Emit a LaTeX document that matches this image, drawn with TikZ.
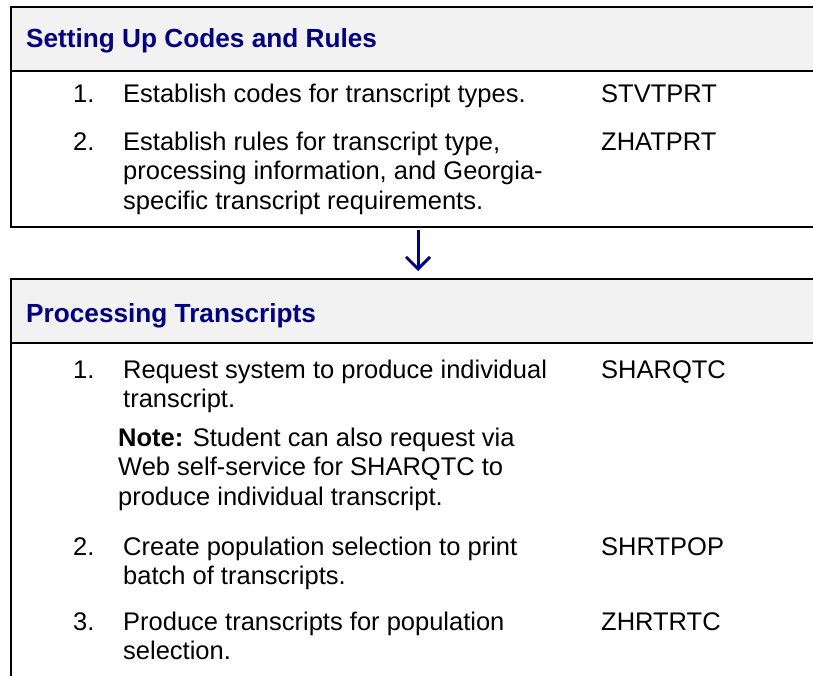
\documentclass[tikz,border=0pt]{standalone}
\usepackage{fontspec}
\setmainfont{Liberation Sans}
\usetikzlibrary{arrows.meta}

\definecolor{headfill}{HTML}{F2F2F2}
\definecolor{headblue}{HTML}{000080}
\newcommand{\steplines}[1]{\parbox[t]{470pt}{\raggedright #1}}

\begin{document}
\begin{tikzpicture}[x=1pt, y=-1pt, font=\fontsize{25.5}{29.5}\selectfont,
    frame/.style={line width=2pt},
    heading/.style={anchor=base west, inner sep=0pt,
      font=\fontsize{26.2}{30}\selectfont\bfseries, text=headblue},
    entry/.style={anchor=base west, inner sep=0pt},
    flowarrow/.style={draw=headblue, line width=3pt,
      -{Straight Barb[length=12pt,width=24pt,line width=3pt]}}]
    \useasboundingbox (0,0) rectangle (813,675);

    % Top panel: setting up codes and rules
    \fill[headfill] (11,7) rectangle (830,71);
    \draw[frame] (830,7) -- (11,7) -- (11,227) -- (830,227);
    \draw[frame] (11,71) -- (830,71);
    \node[heading] (setup-title) at (26,47) {Setting Up Codes and Rules};

    \node[entry] (setup-n1) at (73,102) {1.};
    \node[entry] (setup-t1) at (123,102) {\steplines{Establish codes for transcript types.}};
    \node[entry] (setup-c1) at (601,102) {STVTPRT};

    \node[entry] (setup-n2) at (73,150) {2.};
    \node[entry] (setup-t2) at (123,150) {\steplines{Establish rules for transcript type,\\
      processing information, and Georgia-\\specific transcript requirements.}};
    \node[entry] (setup-c2) at (601,150) {ZHATPRT};

    % Arrow between the panels
    \coordinate (setup-foot) at (418,227);
    \coordinate (proc-head) at (418,279);
    \draw[flowarrow, shorten <=3pt, shorten >=8pt] (setup-foot) -- (proc-head);

    % Bottom panel: processing transcripts
    \fill[headfill] (11,279) rectangle (830,343);
    \draw[frame] (830,279) -- (11,279) -- (11,690);
    \draw[frame] (11,343) -- (830,343);
    \node[heading] (proc-title) at (26,322) {Processing Transcripts};

    \node[entry] (proc-n1) at (73,378) {1.};
    \node[entry] (proc-t1) at (123,378) {\steplines{Request system to produce individual\\transcript.}};
    \node[entry] (proc-c1) at (601,378) {SHARQTC};

    \node[entry] (proc-note) at (118,446) {\steplines{\textbf{Note:} Student can also request via\\
      Web self-service for SHARQTC to\\produce individual transcript.}};

    \node[entry] (proc-n2) at (73,555) {2.};
    \node[entry] (proc-t2) at (123,555) {\steplines{Create population selection to print\\batch of transcripts.}};
    \node[entry] (proc-c2) at (601,555) {SHRTPOP};

    \node[entry] (proc-n3) at (73,630) {3.};
    \node[entry] (proc-t3) at (123,630) {\steplines{Produce transcripts for population\\selection.}};
    \node[entry] (proc-c3) at (601,630) {ZHRTRTC};
\end{tikzpicture}
\end{document}
